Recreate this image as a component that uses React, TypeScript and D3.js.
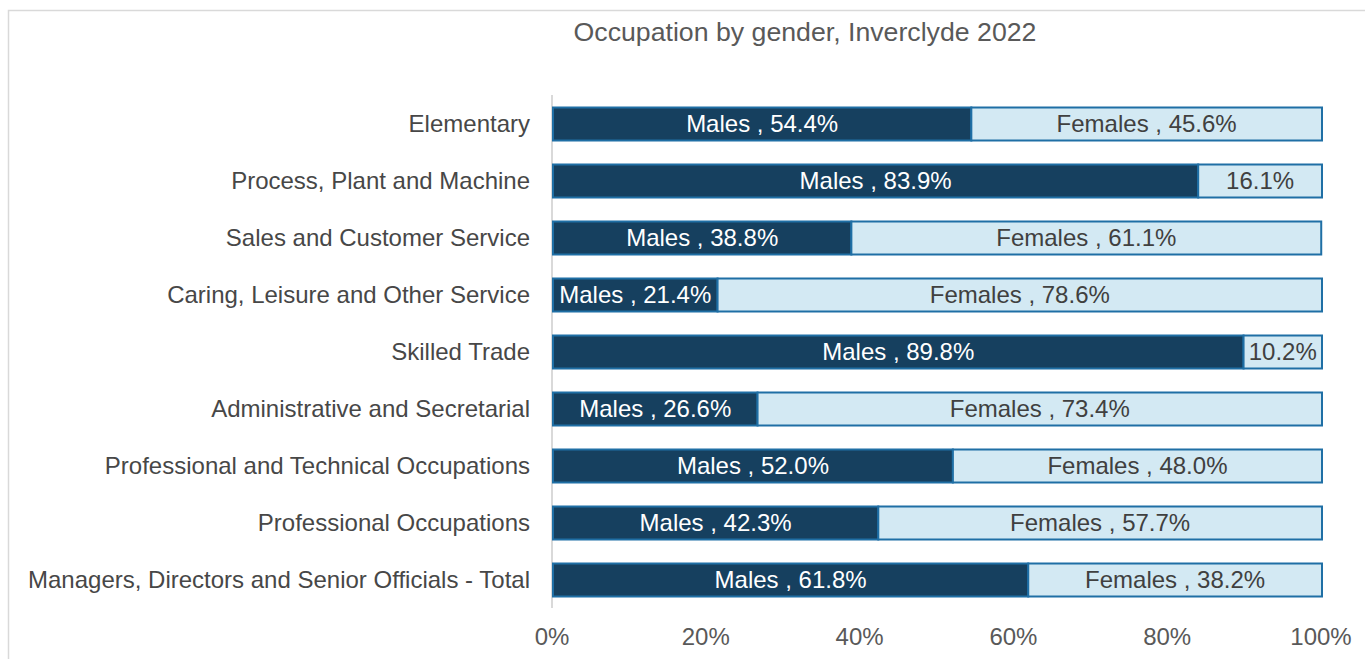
import React from "react";
import * as d3 from "d3";

const categories = [
  "Elementary",
  "Process, Plant and Machine",
  "Sales and Customer Service",
  "Caring, Leisure and Other Service",
  "Skilled Trade",
  "Administrative and Secretarial",
  "Professional and Technical Occupations",
  "Professional Occupations",
  "Managers, Directors and Senior Officials - Total",
];
const males = [54.4, 83.9, 38.8, 21.4, 89.8, 26.6, 52.0, 42.3, 61.8];
const females = [45.6, 16.1, 61.1, 78.6, 10.2, 73.4, 48.0, 57.7, 38.2];
const showFemaleName = [true, false, true, true, false, true, true, true, true];
const ticks = [0, 20, 40, 60, 80, 100];
const title = "Occupation by gender, Inverclyde 2022";

const W = 1365;
const H = 659;
const FONT = "'Liberation Sans', Arial, sans-serif";

export default function App() {
  const x = d3.scaleLinear().domain([0, 100]).range([553, 1322]);
  const y = d3.scaleBand<string>().domain(categories).range([95.5, 608.5]).paddingInner(0.42).paddingOuter(0.21);
  const bh = 33;
  return (
    <svg width={W} height={H} style={{ position: "absolute", left: 0, top: 0 }} fontFamily={FONT}>
      <rect x={0} y={0} width={W} height={H} fill="#fff" />
      <rect x={8.5} y={10.5} width={1360} height={700} fill="none" stroke="#d9d9d9" strokeWidth={1.5} />
      <text x={805} y={41} textAnchor="middle" fontSize={26.7} fill="#595959">{title}</text>
      <line x1={552} x2={552} y1={95} y2={608} stroke="#d9d9d9" strokeWidth={2} />
      {categories.map((c, i) => {
        const cy = (y(c) as number) + y.bandwidth() / 2;
        const m = males[i];
        const f = females[i];
        const xm0 = x(0), xm1 = x(m), xf1 = x(m + f);
        return (
          <g key={c}>
            <text x={530} y={cy} dy="0.35em" textAnchor="end" fontSize={24} fill="#474747">{c}</text>
            <rect x={xm0} y={cy - bh / 2} width={xm1 - xm0} height={bh} fill="#16405f" stroke="#1f6fa5" strokeWidth={2} />
            <rect x={xm1} y={cy - bh / 2} width={xf1 - xm1} height={bh} fill="#d3e9f3" stroke="#1f6fa5" strokeWidth={2} />
            <text x={(xm0 + xm1) / 2} y={cy} dy="0.35em" textAnchor="middle" fontSize={24} fill="#ffffff">
              {`Males , ${m.toFixed(1)}%`}
            </text>
            <text x={(xm1 + xf1) / 2} y={cy} dy="0.35em" textAnchor="middle" fontSize={24} fill="#404040">
              {showFemaleName[i] ? `Females , ${f.toFixed(1)}%` : `${f.toFixed(1)}%`}
            </text>
          </g>
        );
      })}
      {ticks.map((t) => (
        <text key={t} x={x(t) - 1} y={637} dy="0.35em" textAnchor="middle" fontSize={24} fill="#595959">{`${t}%`}</text>
      ))}
    </svg>
  );
}
